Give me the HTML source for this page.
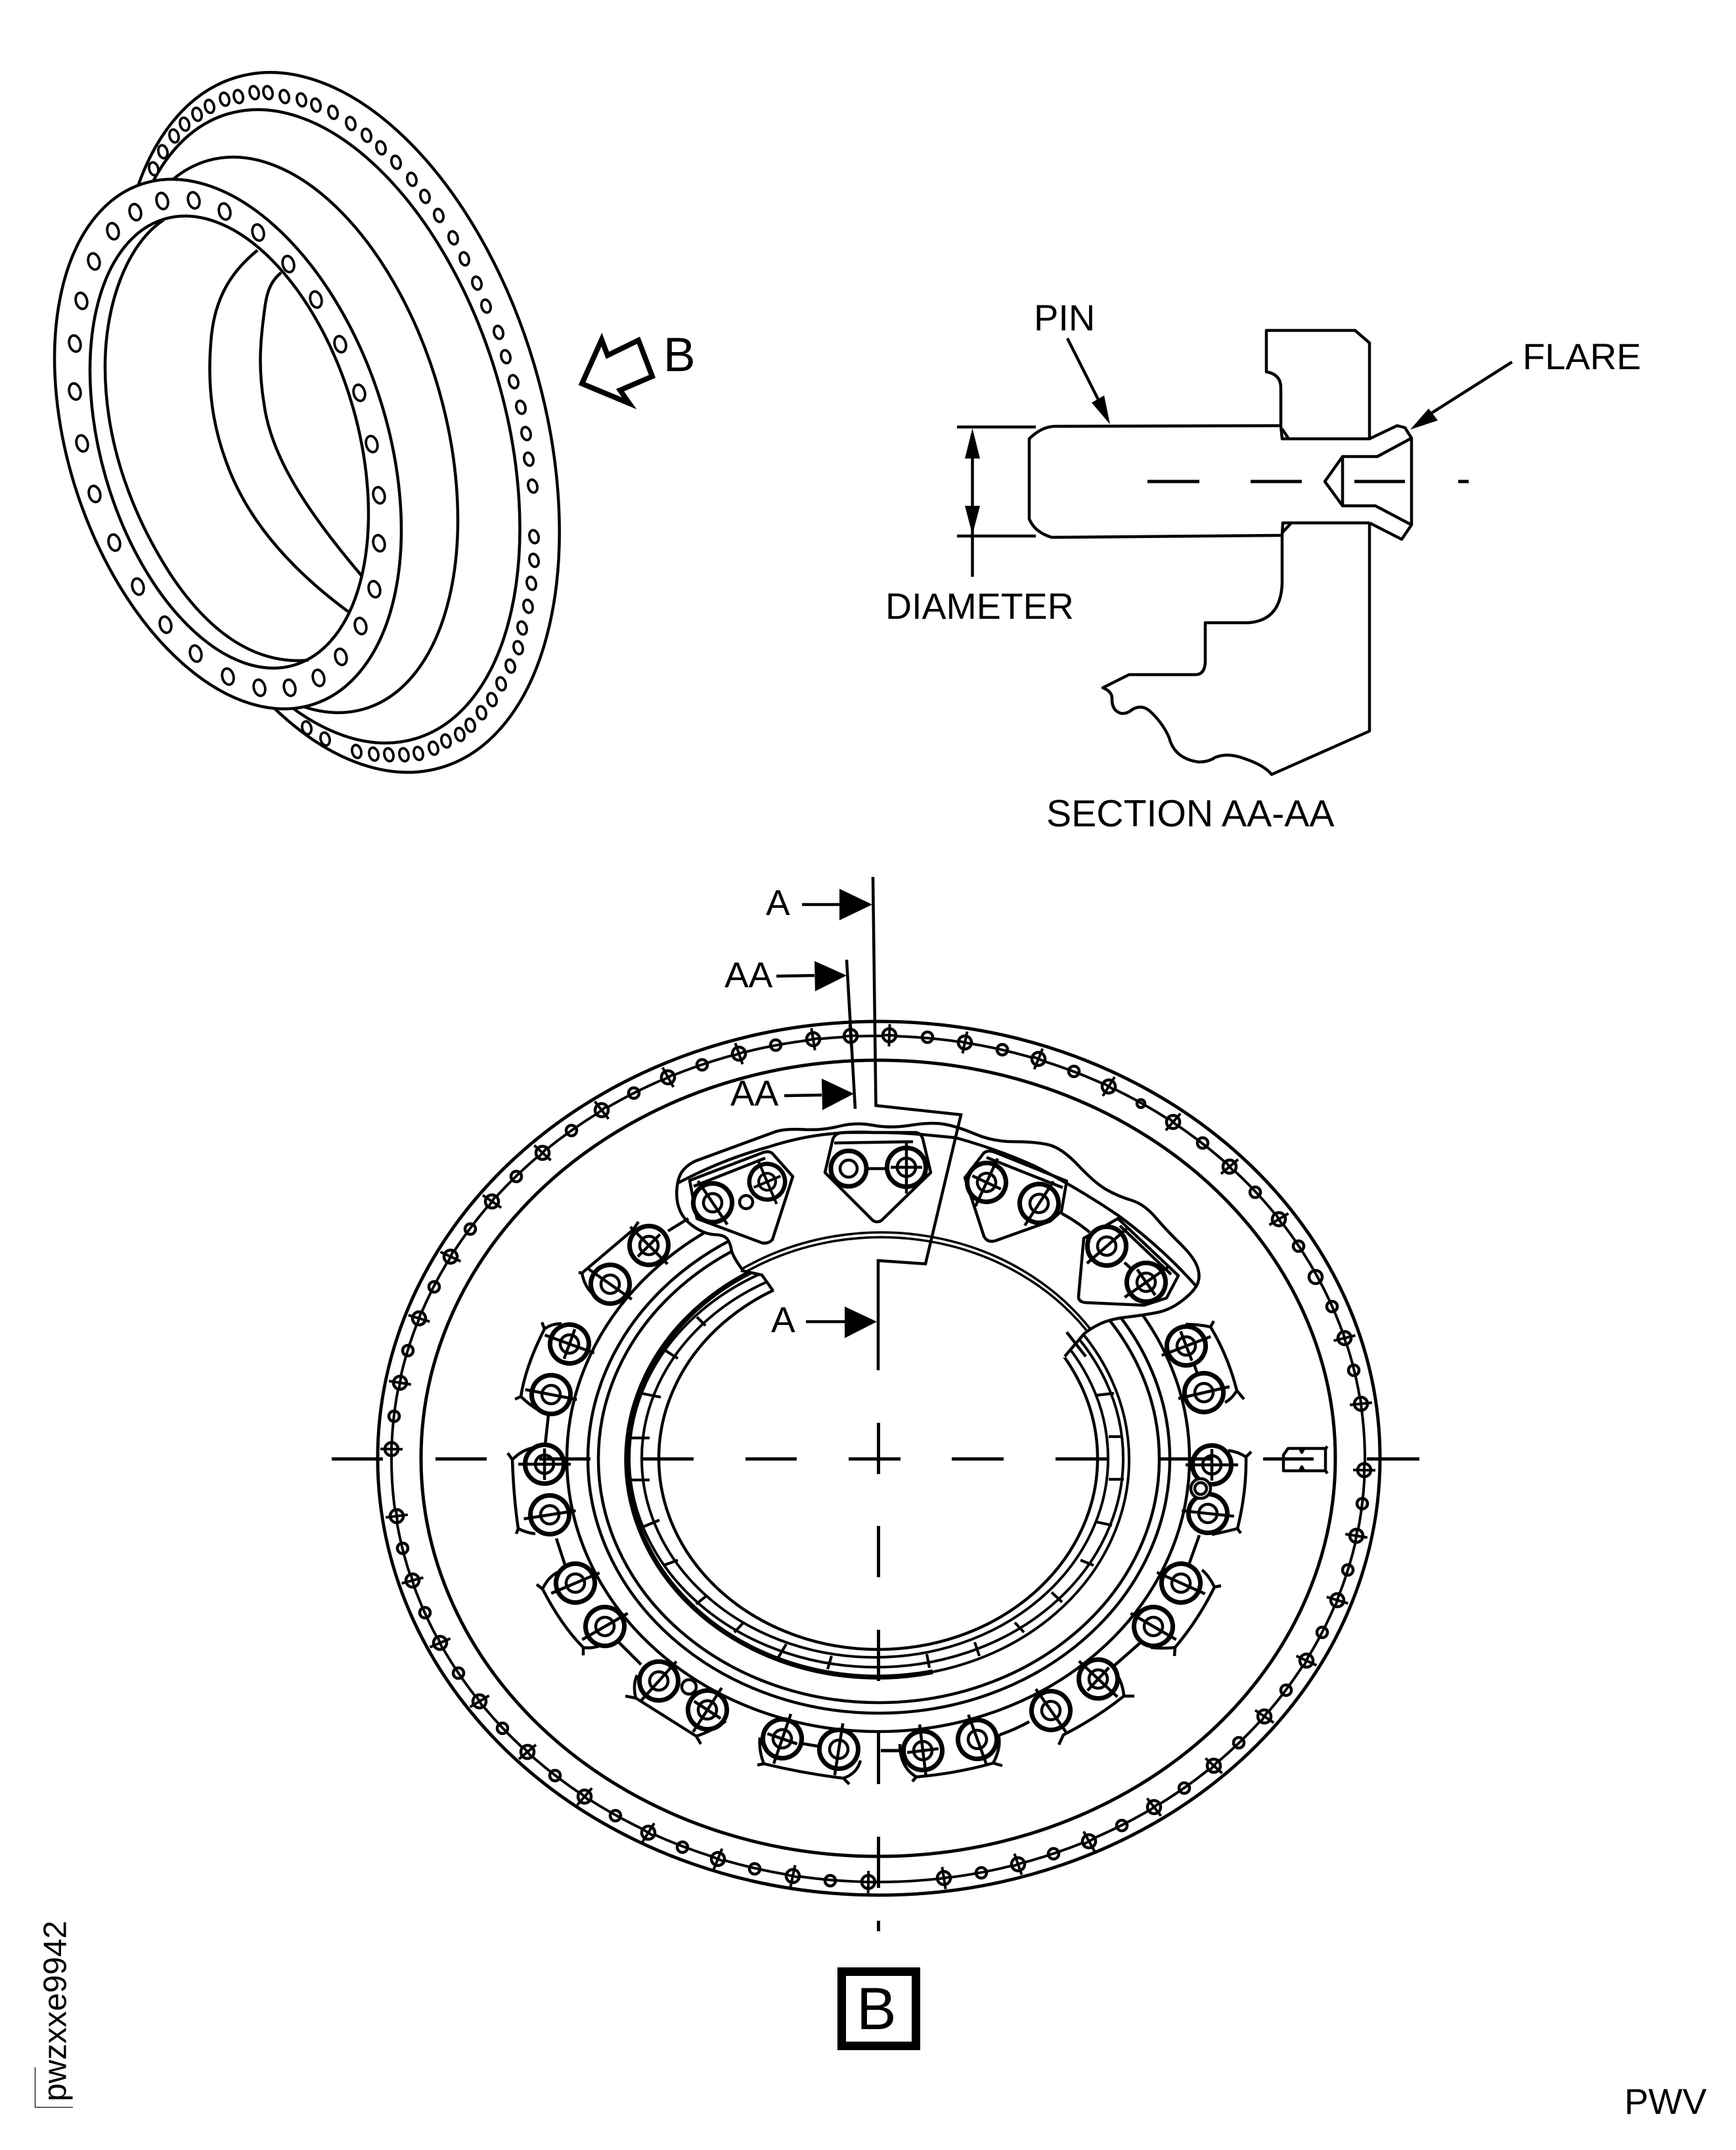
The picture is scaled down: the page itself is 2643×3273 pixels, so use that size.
<!DOCTYPE html>
<html><head><meta charset="utf-8"><style>
html,body{margin:0;padding:0;background:#fff}
svg{display:block}
text{font-family:"Liberation Sans",Arial,sans-serif;fill:#000;stroke:none}
</style></head><body>
<svg xmlns="http://www.w3.org/2000/svg" width="2643" height="3273" viewBox="0 0 2643 3273">
<defs>
<g id="f"><ellipse rx="8.5" ry="12.5" transform="rotate(-15)" fill="#fff" stroke="#000" stroke-width="3.8"/></g>
<g id="b"><ellipse rx="6.8" ry="10" transform="rotate(-15)" fill="#fff" stroke="#000" stroke-width="3.8"/></g>
<g id="c" fill="none" stroke="#000"><circle r="10" fill="#fff" stroke-width="4.5"/><path d="M-17 0H17M0-11V11" stroke-width="4"/></g>
<g id="R" stroke="#000"><circle r="29.5" fill="#fff" stroke-width="7"/><circle r="14" fill="#fff" stroke-width="4.5"/><path d="M-40 0H40M0-24V24" stroke-width="4.5"/></g>
<g id="S" stroke="#000"><circle r="29.5" fill="#fff" stroke-width="7"/><circle r="14" fill="#fff" stroke-width="4.5"/><path d="M-40 0H40" stroke-width="4.5"/></g>
</defs>

<!-- Isometric flange -->
<g fill="none" stroke="#000" stroke-width="4.5">
<ellipse cx="516" cy="643" rx="548" ry="310" transform="rotate(73.45 516 643)"/>
<ellipse cx="489.5" cy="649" rx="496.5" ry="277.5" transform="rotate(73.2 489.5 649)"/>
<ellipse cx="435" cy="662" rx="434" ry="243" transform="rotate(74.2 435 662)"/>
</g>
<g>
<use href="#b" x="234" y="257"/><use href="#b" x="248" y="231"/><use href="#b" x="265" y="207"/><use href="#b" x="281" y="189"/><use href="#b" x="300" y="174"/><use href="#b" x="319" y="162"/><use href="#b" x="342" y="151"/><use href="#b" x="363" y="147"/><use href="#b" x="387" y="141"/><use href="#b" x="408" y="141"/><use href="#b" x="433" y="147"/><use href="#b" x="459" y="152"/><use href="#b" x="481" y="160"/><use href="#b" x="507" y="171"/><use href="#b" x="534" y="188"/><use href="#b" x="558" y="206"/><use href="#b" x="580" y="225"/><use href="#b" x="603" y="247"/><use href="#b" x="627" y="273"/><use href="#b" x="647" y="299"/><use href="#b" x="668" y="328"/><use href="#b" x="690" y="362"/><use href="#b" x="707" y="394"/><use href="#b" x="726" y="431"/><use href="#b" x="740" y="466"/><use href="#b" x="759" y="506"/><use href="#b" x="770" y="543"/><use href="#b" x="782" y="581"/><use href="#b" x="793" y="620"/><use href="#b" x="801" y="660"/><use href="#b" x="805" y="699"/><use href="#b" x="811" y="740"/><use href="#b" x="813" y="817"/><use href="#b" x="813" y="853"/><use href="#b" x="809" y="888"/><use href="#b" x="804" y="923"/><use href="#b" x="795" y="956"/><use href="#b" x="789" y="986"/><use href="#b" x="777" y="1014"/><use href="#b" x="763" y="1041"/><use href="#b" x="749" y="1065"/><use href="#b" x="733" y="1085"/><use href="#b" x="716" y="1104"/><use href="#b" x="700" y="1118"/><use href="#b" x="679" y="1128"/><use href="#b" x="660" y="1139"/><use href="#b" x="637" y="1147"/><use href="#b" x="615" y="1149"/><use href="#b" x="592" y="1149"/><use href="#b" x="569" y="1148"/><use href="#b" x="543" y="1144"/><use href="#b" x="495" y="1125"/><use href="#b" x="467" y="1108"/>
</g>
<g fill="none" stroke="#000" stroke-width="4.5">
<ellipse cx="347" cy="676" rx="417" ry="241.4" transform="rotate(71.7 347 676)" fill="#fff"/>
<ellipse cx="349" cy="673" rx="353.6" ry="195.6" transform="rotate(73.9 349 673)"/>
<path d="M249 335C195 370 160 460 160 558C160 680 205 790 260 875C320 965 390 1012 470 1005"/>
<path d="M392 381C350 415 328 455 322 510C314 590 325 650 344 702C368 770 420 850 530 931"/>
<path d="M428 415C412 428 406 445 403 470C396 520 393 560 402 615C412 690 460 770 551 877"/>
</g>
<g>
<use href="#f" x="247" y="306"/><use href="#f" x="295" y="305"/><use href="#f" x="342" y="322"/><use href="#f" x="393" y="354"/><use href="#f" x="439" y="402"/><use href="#f" x="481" y="456"/><use href="#f" x="518" y="524"/><use href="#f" x="547" y="598"/><use href="#f" x="566" y="676"/><use href="#f" x="577" y="754"/><use href="#f" x="577" y="827"/><use href="#f" x="570" y="897"/><use href="#f" x="549" y="953"/><use href="#f" x="519" y="1000"/><use href="#f" x="485" y="1032"/><use href="#f" x="441" y="1047"/><use href="#f" x="395" y="1047"/><use href="#f" x="347" y="1030"/><use href="#f" x="298" y="995"/><use href="#f" x="252" y="951"/><use href="#f" x="210" y="893"/><use href="#f" x="174" y="826"/><use href="#f" x="144" y="752"/><use href="#f" x="125" y="675"/><use href="#f" x="114" y="596"/><use href="#f" x="114" y="523"/><use href="#f" x="124" y="458"/><use href="#f" x="143" y="398"/><use href="#f" x="172" y="352"/><use href="#f" x="206" y="323"/>
</g>
<polygon points="916,517 925,541 972,518 993,573 944,594 958,614 886,584" fill="none" stroke="#000" stroke-width="8"/>
<text x="1010" y="565" font-size="73">B</text>

<!-- Section AA-AA -->
<g fill="none" stroke="#000" stroke-width="4.5" stroke-linejoin="round">
<path d="M1950 648L1605 649Q1585 650 1567 668L1567 790Q1575 810 1601 818L1952 815"/>
<path d="M1950 648L1950 590Q1950 570 1928 566L1928 503L2063 503L2085 522L2085 668L1952 668L1950 648M1952 653L1962 668"/>
<path d="M2085 668L2127 648L2139 651L2149 667L2149 799L2134 821L2085 796"/>
<path d="M2149 667L2097 695L2044 695L2044 770L2094 770L2149 799M2044 695L2017 733L2044 770"/>
<path d="M1952 815L1953 796L2085 796M1953 810L1966 796"/>
<path d="M1952 815L1952 888Q1950 945 1900 948L1835 948L1835 1008Q1834 1027 1820 1027L1719 1027L1679 1047Q1692 1052 1693 1062Q1692 1082 1707 1086Q1716 1087 1724 1080Q1738 1072 1750 1082Q1770 1100 1780 1123Q1788 1155 1825 1160Q1840 1160 1850 1153Q1870 1145 1895 1155Q1925 1165 1936 1179L2085 1113L2085 796"/>
<path d="M1747 733H1826M1904 733H1982M2062 733H2139M2220 733H2236" stroke-width="5"/>
<path d="M1457 650H1577M1457 816H1577M1480.5 660V878"/>
<path d="M1625 515L1682 628M2302 551L2165 638"/>
</g>
<polygon points="1480.5,652 1469,698 1492,698" fill="#000"/>
<polygon points="1480.5,814 1469,770 1492,770" fill="#000"/>
<polygon points="1690,646 1662,613 1681,602" fill="#000"/>
<polygon points="2147,654 2175,622 2189,640" fill="#000"/>
<text x="1574" y="503" font-size="56">PIN</text>
<text x="2318" y="562" font-size="56">FLARE</text>
<text x="1348" y="942" font-size="55.5">DIAMETER</text>
<text x="1593" y="1258" font-size="57.2">SECTION AA-AA</text>

<!-- View B rings -->
<g fill="none" stroke="#000" stroke-width="5">
<ellipse cx="1338" cy="2220" rx="763" ry="665"/>
<ellipse cx="1337" cy="2220" rx="696" ry="606"/>
<ellipse cx="1337" cy="2221" rx="741" ry="644" stroke-width="4"/>
<ellipse cx="1337" cy="2221" rx="474" ry="415" stroke-width="4.5"/>
<ellipse cx="1338" cy="2221" rx="443" ry="387" stroke-width="4.5"/>
<ellipse cx="1338" cy="2221" rx="427" ry="371" stroke-width="4.5"/>
<ellipse cx="1337" cy="2220" rx="334" ry="291" stroke-width="4.5"/>
<ellipse cx="1332" cy="2220" rx="355" ry="303" stroke-width="4"/>
<ellipse cx="1334" cy="2220" rx="376" ry="318" stroke-width="4"/>
<ellipse cx="1337" cy="2222" rx="382" ry="331" stroke-width="4"/>
<path d="M1150 1933A382 331 0 0 0 1420 2545" stroke-width="7.5"/>
<path stroke-width="4.2" d="M1061 2005L1074 2018M1013 2056L1032 2068M976 2121L1006 2127M958 2189L989 2189M958 2253L989 2253M980 2324L1004 2314M1010 2383L1032 2375M1060 2442L1076 2429M1118 2485L1132 2470M1185 2523L1197 2503M1260 2541L1266 2521M1415 2539L1411 2518M1491 2521L1484 2500M1559 2485L1545 2470M1617 2439L1601 2424M1665 2383L1645 2375M1693 2322L1670 2317M1711 2252L1688 2252M1709 2187L1688 2187M1696 2121L1670 2124"/>
</g>

<!-- Bolt-circle holes -->
<g fill="none" stroke="#000" stroke-width="4.5">
<circle cx="1181" cy="1591" r="8"/><circle cx="1069" cy="1621" r="8"/><circle cx="965" cy="1664" r="8"/><circle cx="870" cy="1721" r="8"/><circle cx="786" cy="1791" r="8"/><circle cx="716" cy="1871" r="8"/><circle cx="661" cy="1959" r="8"/><circle cx="621" cy="2056" r="8"/><circle cx="600" cy="2156" r="8"/><circle cx="613" cy="2357" r="8"/><circle cx="647" cy="2455" r="8"/><circle cx="698" cy="2547" r="8"/><circle cx="765" cy="2631" r="8"/><circle cx="845" cy="2703" r="8"/><circle cx="937" cy="2764" r="8"/><circle cx="1039" cy="2812" r="8"/><circle cx="1149" cy="2845" r="8"/><circle cx="1264" cy="2863" r="8"/><circle cx="1494" cy="2851" r="8"/><circle cx="1604" cy="2822" r="8"/><circle cx="1708" cy="2779" r="8"/><circle cx="1803" cy="2722" r="8"/><circle cx="1886" cy="2653" r="8"/><circle cx="1958" cy="2573" r="8"/><circle cx="2013" cy="2485" r="8"/><circle cx="2052" cy="2390" r="8"/><circle cx="2074" cy="2289" r="8"/><circle cx="2061" cy="2086" r="8"/><circle cx="2028" cy="1989" r="8"/><circle cx="2003" cy="1944" r="10"/><circle cx="1977" cy="1897" r="8"/><circle cx="1911" cy="1815" r="8"/><circle cx="1831" cy="1740" r="8"/><circle cx="1737" cy="1680" r="6"/><circle cx="1635" cy="1631" r="8"/><circle cx="1526" cy="1598" r="8"/><circle cx="1412" cy="1579" r="8"/>
</g>
<g>
<use href="#c" transform="translate(1295 1577) rotate(86)"/><use href="#c" transform="translate(1238 1582) rotate(81)"/><use href="#c" transform="translate(1125 1604) rotate(71)"/><use href="#c" transform="translate(1017 1640) rotate(61)"/><use href="#c" transform="translate(916 1690) rotate(52)"/><use href="#c" transform="translate(826 1755) rotate(42)"/><use href="#c" transform="translate(749 1829) rotate(34)"/><use href="#c" transform="translate(686 1913) rotate(25)"/><use href="#c" transform="translate(638 2007) rotate(17)"/><use href="#c" transform="translate(609 2105) rotate(9)"/><use href="#c" transform="translate(596 2206) rotate(1)"/>
<use href="#c" transform="translate(604 2308) rotate(-7)"/><use href="#c" transform="translate(628 2406) rotate(-15)"/><use href="#c" transform="translate(670 2501) rotate(-23)"/><use href="#c" transform="translate(730 2590) rotate(-31)"/><use href="#c" transform="translate(803 2667) rotate(-40)"/><use href="#c" transform="translate(890 2735) rotate(-49)"/><use href="#c" transform="translate(987 2790) rotate(-58)"/><use href="#c" transform="translate(1093 2830) rotate(-68)"/><use href="#c" transform="translate(1207 2856) rotate(-78)"/><use href="#c" transform="translate(1322 2865) rotate(-89)"/>
<use href="#c" transform="translate(1437 2859) rotate(81)"/><use href="#c" transform="translate(1550 2838) rotate(71)"/><use href="#c" transform="translate(1658 2803) rotate(61)"/><use href="#c" transform="translate(1757 2751) rotate(52)"/><use href="#c" transform="translate(1848 2688) rotate(42)"/><use href="#c" transform="translate(1925 2613) rotate(34)"/><use href="#c" transform="translate(1989 2528) rotate(25)"/><use href="#c" transform="translate(2036 2436) rotate(17)"/><use href="#c" transform="translate(2065 2338) rotate(9)"/><use href="#c" transform="translate(2077 2238) rotate(1)"/>
<use href="#c" transform="translate(2072 2137) rotate(-6)"/><use href="#c" transform="translate(2047 2037) rotate(-14)"/><use href="#c" transform="translate(1947 1856) rotate(-31)"/><use href="#c" transform="translate(1872 1776) rotate(-40)"/><use href="#c" transform="translate(1786 1708) rotate(-49)"/><use href="#c" transform="translate(1688 1654) rotate(-58)"/><use href="#c" transform="translate(1581 1612) rotate(-68)"/><use href="#c" transform="translate(1469 1587) rotate(-78)"/><use href="#c" transform="translate(1354 1576) rotate(-88)"/>
</g>

<!-- Cutaway blob -->
<path fill="#fff" d="M1131 1934Q1115 1912 1113.5 1902.5Q1112 1893 1107.5 1886.5Q1103 1880 1088.5 1879.5Q1074 1879 1058 1868.5Q1042 1858 1035.5 1843.5Q1029 1829 1030.5 1810Q1032 1791 1040 1781.5Q1048 1772 1060 1767L1180 1723Q1195 1718 1223.5 1719.5Q1252 1721 1277.5 1714.5Q1303 1708 1329 1713Q1355 1718 1386.5 1713Q1418 1708 1438 1711.5Q1458 1715 1485 1726.5Q1512 1738 1543.5 1738Q1575 1738 1595.5 1742.5Q1616 1747 1641.5 1774Q1667 1801 1684.5 1811Q1702 1821 1722 1827Q1742 1833 1759 1853Q1776 1873 1796.5 1893Q1817 1913 1822.5 1927.5Q1828 1942 1823.5 1953.5Q1819 1965 1800.5 1979.5Q1782 1994 1762 1998Q1742 2002 1716 2005Q1690 2008 1674.5 2015.5Q1659 2023 1650 2031L1621 2065Z"/>
<polygon fill="#fff" points="1128,1934 1160,1941 1177,1965 1621,2067 1650,2031 1400,1850 1200,1850"/>
<g fill="none" stroke="#000" stroke-width="4.5" stroke-linejoin="round">
<path d="M1131 1934Q1115 1912 1113.5 1902.5Q1112 1893 1107.5 1886.5Q1103 1880 1088.5 1879.5Q1074 1879 1058 1868.5Q1042 1858 1035.5 1843.5Q1029 1829 1030.5 1810Q1032 1791 1040 1781.5Q1048 1772 1060 1767L1180 1723Q1195 1718 1223.5 1719.5Q1252 1721 1277.5 1714.5Q1303 1708 1329 1713Q1355 1718 1386.5 1713Q1418 1708 1438 1711.5Q1458 1715 1485 1726.5Q1512 1738 1543.5 1738Q1575 1738 1595.5 1742.5Q1616 1747 1641.5 1774Q1667 1801 1684.5 1811Q1702 1821 1722 1827Q1742 1833 1759 1853Q1776 1873 1796.5 1893Q1817 1913 1822.5 1927.5Q1828 1942 1823.5 1953.5Q1819 1965 1800.5 1979.5Q1782 1994 1762 1998Q1742 2002 1716 2005Q1690 2008 1674.5 2015.5Q1659 2023 1650 2031L1621 2065"/>
<path d="M1032 1801Q1100 1765 1170 1746Q1220 1730 1265 1726Q1300 1722 1329 1724Q1370 1724 1403 1727L1455 1732Q1520 1750 1575 1775Q1640 1808 1702 1850Q1770 1900 1822 1959"/>
<path d="M1131 1931A388 343 0 0 1 1659 2022M1134 1937A385 340 0 0 1 1654 2025" stroke-width="3.6"/>
<path d="M1128 1934L1160 1941L1177 1965M1624 2028L1653 2065"/>
<!-- pad outlines in blob -->
<path d="M1050 1797L1163 1754Q1172 1752 1176 1756L1207 1791L1176 1887Q1170 1894 1160 1892L1061 1855Z"/>
<path d="M1056 1806L1165 1763"/>
<path d="M1268 1734Q1272 1724 1285 1724L1393 1724Q1402 1724 1405 1734L1417 1785L1342 1858Q1335 1862 1329 1858L1256 1785Z"/>
<path d="M1469 1793L1498 1755Q1503 1751 1512 1753L1624 1798L1616 1844L1599 1859L1515 1889Q1503 1892 1498 1882Z"/>
<path d="M1502 1762L1618 1808"/>
<path d="M1650 1885L1702 1855L1794 1942L1776 1976L1742 1987L1653 1983Q1642 1982 1642 1974Z"/>
<path d="M1705 1866L1783 1940"/>
<path d="M1270 1740L1390 1738M1305 1779H1365M1616 1847Q1640 1860 1659 1876M1712 1922L1725 1934"/>
<path d="M1017 1874L1048 1855M836 2145L830 2199M847 2342L862 2388M942 2500L976 2534M1220 2654L1261 2661M1522 2641Q1545 2633 1567 2621M1696 2536L1737 2500M1826 2337L1806 2393M1818 2077L1827 2103"/>
<!-- lower pad outlines -->
<path d="M972 1860L964 1872L886 1938L881 1937M886 1938Q890 1960 905 1972"/>
<path d="M825 2013L829 2023Q800 2080 793 2126L784 2130M793 2126Q805 2138 822 2148M829 2023Q840 2015 855 2015"/>
<path d="M773 2212L780 2222Q782 2280 789 2327L786 2335M780 2222Q795 2207 812 2204M789 2327Q800 2333 815 2335"/>
<path d="M817 2412L826 2419Q855 2475 888 2508L888 2520M826 2419Q835 2400 850 2393M888 2508Q900 2510 915 2505"/>
<path d="M952 2582L968 2585L1060 2643L1067 2655M968 2585Q963 2565 970 2550M1060 2643Q1085 2635 1105 2620"/>
<path d="M1153 2687L1163 2685Q1225 2700 1284 2707L1293 2716M1163 2685Q1155 2665 1157 2645M1284 2707Q1305 2700 1310 2680"/>
<path d="M1389 2712L1395 2705Q1455 2700 1512 2684L1526 2688M1395 2705Q1370 2690 1370 2655M1512 2684Q1525 2660 1520 2640"/>
<path d="M1612 2656L1619 2641Q1670 2615 1711 2582L1727 2582M1711 2582Q1710 2565 1700 2548"/>
<path d="M1788 2521L1789 2508Q1825 2465 1849 2416L1859 2414M1849 2416Q1840 2398 1830 2390M1789 2508Q1770 2510 1752 2508"/>
<path d="M1905 2210L1897 2218Q1898 2270 1884 2327L1889 2334M1897 2218Q1885 2210 1870 2208M1884 2327Q1865 2332 1845 2336"/>
<path d="M1848 2011L1843 2020Q1870 2065 1883 2117L1894 2130M1843 2020Q1825 2016 1805 2016M1883 2117Q1875 2130 1865 2135"/>
<!-- keyway -->
<path d="M1954 2215L1961 2205H2018V2239H1954ZM2021 2202L2018 2205M2021 2243L2018 2239M1979 2205L1982 2211L1985 2205M1979 2239L1982 2233L1985 2239"/>
</g>

<!-- Lugs -->
<g>
<use href="#R" transform="translate(988 1896) rotate(45)"/><use href="#S" transform="translate(929 1955) rotate(35)"/>
<use href="#R" transform="translate(867 2046) rotate(20)"/><use href="#S" transform="translate(839 2123) rotate(11)"/>
<use href="#R" transform="translate(829 2229)"/><use href="#S" transform="translate(837 2306) rotate(-9)"/>
<use href="#S" transform="translate(876 2410) rotate(-23)"/><use href="#S" transform="translate(921 2476) rotate(-30)"/>
<use href="#S" transform="translate(1003 2559) rotate(-48)"/><use href="#R" transform="translate(1077 2603) rotate(-57)"/>
<use href="#R" transform="translate(1191 2647) rotate(-71)"/><use href="#S" transform="translate(1277 2663) rotate(-81)"/>
<use href="#R" transform="translate(1405 2665) rotate(83)"/><use href="#S" transform="translate(1488 2648) rotate(70)"/>
<use href="#S" transform="translate(1600 2604) rotate(55)"/><use href="#R" transform="translate(1672 2556) rotate(43)"/>
<use href="#S" transform="translate(1756 2476) rotate(30)"/><use href="#S" transform="translate(1798 2410) rotate(24)"/>
<use href="#S" transform="translate(1839 2304) rotate(6)"/><use href="#R" transform="translate(1845 2230)"/>
<use href="#S" transform="translate(1833 2120) rotate(-13)"/><use href="#R" transform="translate(1806 2049) rotate(-21)"/>
<use href="#R" transform="translate(1745 1952) rotate(-35)"/><use href="#S" transform="translate(1685 1897) rotate(-41)"/>
<use href="#S" transform="translate(1582 1832) rotate(-57)"/><use href="#R" transform="translate(1502 1800) rotate(-65)"/>
<use href="#R" transform="translate(1380 1777) rotate(90)"/>
<use href="#R" transform="translate(1168 1799) rotate(67) scale(.92)"/><use href="#S" transform="translate(1085 1831) rotate(56)"/>
</g>
<g fill="#fff" stroke="#000">
<circle cx="1292" cy="1779" r="27" stroke-width="7"/><circle cx="1292" cy="1779" r="13" stroke-width="4.5"/>
<circle cx="1136" cy="1830" r="10" stroke-width="4.5"/>
<circle cx="1049" cy="2568" r="11" stroke-width="4.5"/>
<circle cx="1828" cy="2266" r="15" stroke-width="4.5"/><circle cx="1828" cy="2266" r="9" stroke-width="4.5"/>
</g>

<!-- Centre lines and section line -->
<g fill="none" stroke="#000" stroke-width="5">
<path d="M505 2221H583M663 2221H741M821 2221H899M977 2221H1056M1135 2221H1213M1292 2221H1371M1449 2221H1528M1607 2221H1687M1765 2221H1845M1923 2221H2000M2081 2221H2161"/>
<path d="M1337.5 2166V2244M1337.5 2323V2401M1337.5 2481V2559M1337.5 2638V2716M1337.5 2796V2874M1337.5 2924V2940M1341 2665H1373"/>
<path stroke-width="4.5" stroke-linejoin="miter" d="M1329 1335L1333.5 1683L1463 1697L1409 1924L1337 1919L1337 2086M1289 1461L1302 1688"/>
<path stroke-width="4.5" d="M1221 1377H1278M1182 1486L1240 1485M1194 1668L1251 1667M1227 2012H1286"/>
</g>
<g fill="#000">
<polygon points="1278,1353 1328,1377 1278,1401"/>
<polygon points="1240,1463 1289,1485 1241,1509"/>
<polygon points="1251,1642 1300,1665 1252,1690"/>
<polygon points="1286,1989 1335,2012 1286,2037"/>
</g>
<text x="1166" y="1393" font-size="55">A</text>
<text x="1103" y="1503" font-size="55">AA</text>
<text x="1112" y="1683" font-size="55">AA</text>
<text x="1174" y="2028" font-size="55">A</text>

<!-- B box -->
<rect x="1281.5" y="3001.5" width="113" height="113" fill="none" stroke="#000" stroke-width="13"/>
<text x="1304" y="3089" font-size="91">B</text>

<!-- Margin text -->
<path d="M53.5 3147V3208H111" fill="none" stroke="#000" stroke-width="1.2"/>
<text transform="translate(100.5 3199) rotate(-90)" font-size="49.5">pwzxxe9942</text>
<text x="2473" y="3218" font-size="55">PWV</text>
</svg>
</body></html>
